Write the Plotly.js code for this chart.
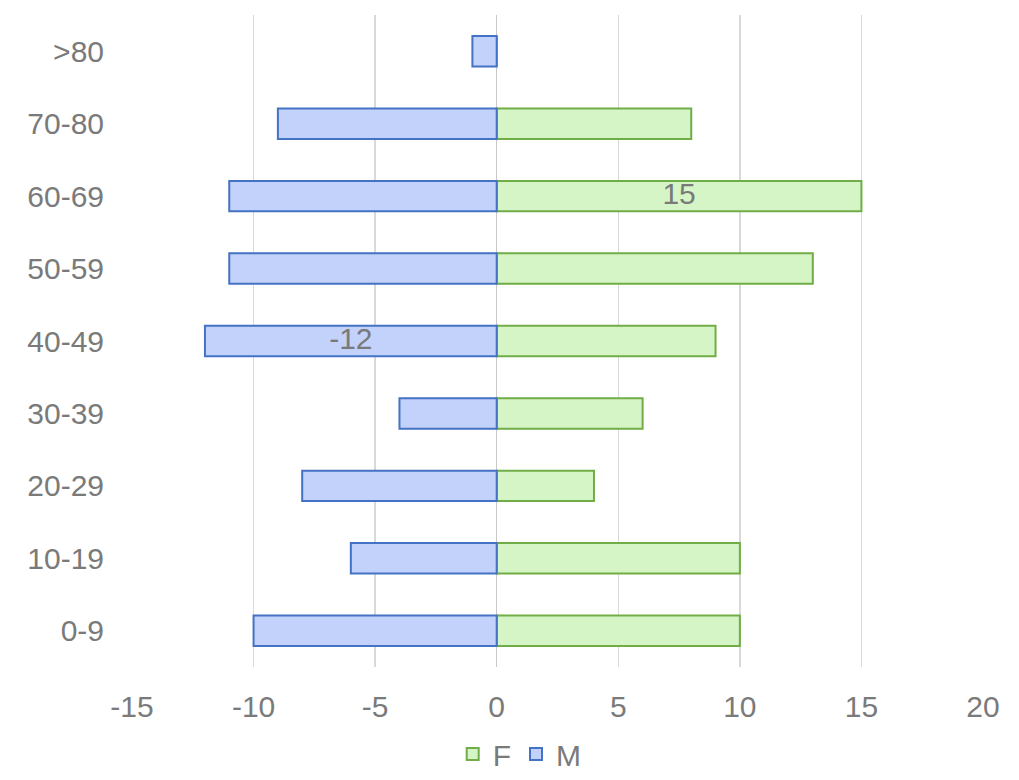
<!DOCTYPE html>
<html><head><meta charset="utf-8">
<script src="https://cdn.plot.ly/plotly-3.0.1.min.js"></script>
<style>html,body{margin:0;padding:0;background:#fff}#chart{width:1019px;height:780px}</style>
</head><body><div id="chart"></div>
<script>
const categories = ['0-9','10-19','20-29','30-39','40-49','50-59','60-69','70-80','>80'];
const maleValues = [-10,-6,-8,-4,-12,-11,-11,-9,-1];
const femaleValues = [10,10,4,6,9,13,15,8,0];
const maleLabels = ['','','','','-12','','','',''];
const femaleLabels = ['','','','','','','15','',''];
const xTicks = [-15,-10,-5,0,5,10,15,20];

const FONT = 'Liberation Sans, Arial, sans-serif';
const TXT = '#7a7a7a';

const fem = {
  type:'bar', orientation:'h', name:'F', y:categories, x:femaleValues,
  marker:{color:'#d6f5c6', line:{color:'#70ad47', width:2}},
  width:0.42, hoverinfo:'x+y'
};
const male = {
  type:'bar', orientation:'h', name:'M', y:categories, x:maleValues,
  marker:{color:'#c3d2fb', line:{color:'#4472c4', width:2}},
  width:0.42, hoverinfo:'x+y'
};
function labelTrace(vals, labels){
  return {
    type:'scatter', mode:'text', showlegend:false, hoverinfo:'skip',
    y:categories.filter((c,i)=>labels[i]!==''),
    x:vals.filter((v,i)=>labels[i]!=='').map(v=>v/2),
    text:labels.filter(l=>l!==''),
    textposition:'middle center',
    textfont:{color:TXT, size:30, family:FONT}
  };
}
const layout = {
  width:1019, height:780,
  margin:{l:132, r:36, t:15, b:113, autoexpand:false},
  paper_bgcolor:'#fff', plot_bgcolor:'#fff',
  barmode:'relative',
  font:{family:FONT, color:TXT, size:30},
  xaxis:{range:[-15,20], tickvals:xTicks, ticktext:xTicks.map(String),
    showgrid:true, gridcolor:'#d9d9d9', gridwidth:1.5, zeroline:true, zerolinecolor:'#c8c8c8', zerolinewidth:1.5,
    showline:false, ticks:'outside', ticklen:13, tickcolor:'rgba(0,0,0,0)', tickfont:{size:30, color:TXT}, fixedrange:true},
  yaxis:{type:'category', categoryorder:'array', categoryarray:categories, range:[-0.5,8.5],
    showgrid:false, zeroline:false, showline:false, ticks:'outside', ticklen:21, tickcolor:'rgba(0,0,0,0)',
    tickfont:{size:30, color:TXT}, fixedrange:true},
  legend:{orientation:'h', xref:'container', yref:'container', x:0.51, xanchor:'center', y:0.0, yanchor:'bottom',
    font:{size:30, color:TXT}, traceorder:'normal', itemwidth:30, bgcolor:'rgba(0,0,0,0)'},
  showlegend:true
};
Plotly.newPlot('chart',[fem, male, labelTrace(femaleValues,femaleLabels), labelTrace(maleValues,maleLabels)],layout,{displayModeBar:false, staticPlot:true});
</script></body></html>
